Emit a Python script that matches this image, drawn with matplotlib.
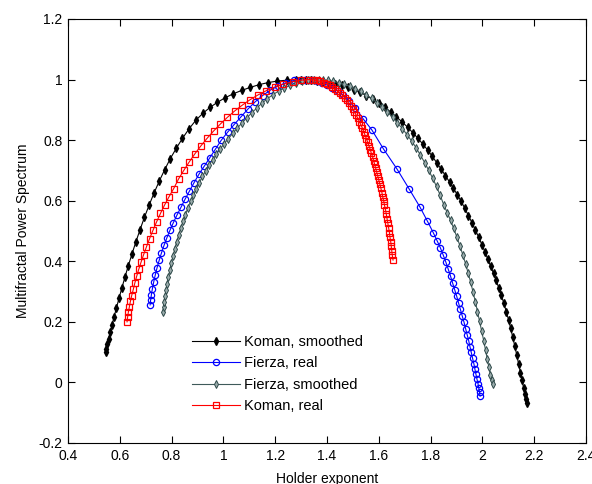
import matplotlib
matplotlib.use('Agg')
import matplotlib.pyplot as plt
from matplotlib.ticker import FuncFormatter

plt.rcParams['font.family'] = ['Liberation Sans', 'DejaVu Sans']
plt.rcParams['axes.unicode_minus'] = False

# Koman, smoothed (black)
koman_smooth_x = [0.545, 0.548, 0.552, 0.557, 0.563, 0.570, 0.578, 0.587, 0.597, 0.608,
                  0.620, 0.633, 0.647, 0.662, 0.678, 0.695, 0.713, 0.732, 0.752, 0.773,
                  0.795, 0.818, 0.842, 0.867, 0.893, 0.920, 0.948, 0.977, 1.007, 1.038,
                  1.070, 1.103, 1.137, 1.172, 1.208, 1.245, 1.282, 1.300,
                  1.318, 1.340, 1.362, 1.385, 1.408, 1.432, 1.456, 1.480, 1.504, 1.528,
                  1.552, 1.576, 1.600, 1.623, 1.646, 1.668, 1.690, 1.711, 1.731, 1.751,
                  1.770, 1.789, 1.807, 1.824, 1.841, 1.857, 1.873, 1.888, 1.903, 1.918,
                  1.932, 1.946, 1.960, 1.973, 1.986, 1.998, 2.010, 2.021, 2.032, 2.043,
                  2.053, 2.063, 2.073, 2.083, 2.092, 2.101, 2.109, 2.117, 2.125, 2.133,
                  2.140, 2.147, 2.153, 2.159, 2.164, 2.168, 2.171]
koman_smooth_y = [0.100, 0.112, 0.126, 0.145, 0.165, 0.190, 0.217, 0.246, 0.278, 0.312,
                  0.348, 0.386, 0.424, 0.464, 0.504, 0.545, 0.585, 0.625, 0.664, 0.702,
                  0.739, 0.773, 0.806, 0.837, 0.865, 0.888, 0.908, 0.925, 0.940, 0.953,
                  0.964, 0.974, 0.983, 0.990, 0.995, 0.998, 1.000, 1.000,
                  1.000, 0.998, 0.996, 0.993, 0.990, 0.986, 0.981, 0.975, 0.967, 0.958,
                  0.947, 0.935, 0.922, 0.908, 0.893, 0.877, 0.860, 0.843, 0.825, 0.806,
                  0.787, 0.767, 0.746, 0.725, 0.704, 0.683, 0.662, 0.641, 0.620, 0.598,
                  0.575, 0.551, 0.527, 0.503, 0.479, 0.455, 0.431, 0.407, 0.383, 0.360,
                  0.337, 0.313, 0.288, 0.261, 0.234, 0.207, 0.179, 0.150, 0.120, 0.089,
                  0.060, 0.032, 0.007, -0.018, -0.038, -0.055, -0.068]

# Fierza, real (blue)
fierza_real_x = [0.717, 0.719, 0.722, 0.726, 0.731, 0.737, 0.744, 0.752, 0.761, 0.771,
                 0.782, 0.794, 0.807, 0.821, 0.836, 0.852, 0.869, 0.887, 0.906, 0.926,
                 0.947, 0.969, 0.992, 1.016, 1.041, 1.067, 1.094, 1.122, 1.151, 1.181,
                 1.212, 1.243, 1.274, 1.300,
                 1.315, 1.330, 1.346, 1.363, 1.381, 1.400, 1.420, 1.441, 1.463, 1.486,
                 1.510, 1.540, 1.573, 1.618, 1.670, 1.717, 1.759, 1.788, 1.810, 1.825,
                 1.838, 1.849, 1.859, 1.868, 1.877, 1.885, 1.893, 1.901, 1.908, 1.915,
                 1.922, 1.929, 1.935, 1.941, 1.947, 1.952, 1.957, 1.962, 1.967, 1.971,
                 1.975, 1.979, 1.983, 1.986, 1.989, 1.991]
fierza_real_y = [0.256, 0.272, 0.290, 0.310, 0.332, 0.355, 0.379, 0.403, 0.428, 0.453,
                 0.478, 0.503, 0.528, 0.553, 0.578, 0.605, 0.632, 0.660, 0.688, 0.714,
                 0.741, 0.770, 0.800, 0.826, 0.851, 0.876, 0.902, 0.926, 0.947, 0.965,
                 0.979, 0.990, 0.997, 1.000,
                 1.000, 0.999, 0.997, 0.994, 0.989, 0.982, 0.973, 0.962, 0.948, 0.930,
                 0.906, 0.870, 0.834, 0.771, 0.705, 0.639, 0.579, 0.532, 0.495, 0.468,
                 0.444, 0.420, 0.397, 0.374, 0.351, 0.328, 0.306, 0.284, 0.262, 0.241,
                 0.220, 0.199, 0.178, 0.158, 0.138, 0.118, 0.099, 0.080, 0.062, 0.044,
                 0.027, 0.011, -0.004, -0.018, -0.032, -0.045]

# Fierza, smoothed (grey)
fierza_smooth_x = [0.767, 0.769, 0.772, 0.775, 0.779, 0.783, 0.788, 0.793, 0.799, 0.805,
                   0.812, 0.819, 0.827, 0.835, 0.844, 0.853, 0.863, 0.873, 0.884, 0.895,
                   0.907, 0.919, 0.932, 0.945, 0.959, 0.973, 0.988, 1.003, 1.019, 1.036,
                   1.053, 1.071, 1.090, 1.109, 1.129, 1.149, 1.170, 1.191, 1.213, 1.235,
                   1.257, 1.280, 1.303, 1.326, 1.349, 1.370,
                   1.385, 1.405, 1.425, 1.446, 1.467, 1.488, 1.509, 1.530, 1.551, 1.572,
                   1.593, 1.613, 1.633, 1.653, 1.672, 1.691, 1.709, 1.727, 1.744, 1.761,
                   1.777, 1.793, 1.808, 1.823, 1.837, 1.851, 1.864, 1.877, 1.889, 1.901,
                   1.913, 1.924, 1.935, 1.945, 1.955, 1.964, 1.973, 1.981, 1.989, 1.997,
                   2.005, 2.012, 2.019, 2.025, 2.031, 2.036, 2.040]
fierza_smooth_y = [0.232, 0.248, 0.265, 0.284, 0.304, 0.325, 0.347, 0.370, 0.393, 0.416,
                   0.440, 0.463, 0.486, 0.509, 0.532, 0.554, 0.576, 0.598, 0.619, 0.640,
                   0.660, 0.680, 0.699, 0.718, 0.736, 0.754, 0.771, 0.788, 0.805, 0.822,
                   0.839, 0.856, 0.873, 0.890, 0.906, 0.922, 0.937, 0.950, 0.962, 0.972,
                   0.981, 0.988, 0.994, 0.997, 0.999, 1.000,
                   0.999, 0.997, 0.994, 0.990, 0.985, 0.978, 0.970, 0.961, 0.950, 0.938,
                   0.924, 0.909, 0.893, 0.876, 0.857, 0.838, 0.818, 0.797, 0.775, 0.750,
                   0.726, 0.700, 0.674, 0.647, 0.618, 0.586, 0.561, 0.535, 0.509, 0.481,
                   0.452, 0.422, 0.392, 0.361, 0.330, 0.298, 0.266, 0.234, 0.202, 0.170,
                   0.138, 0.107, 0.077, 0.050, 0.025, 0.007, -0.005]

# Koman, real (red)
koman_real_x = [0.628, 0.630, 0.633, 0.637, 0.641, 0.646, 0.652, 0.658, 0.665, 0.673,
                0.682, 0.692, 0.703, 0.715, 0.728, 0.742, 0.757, 0.773, 0.790, 0.808,
                0.827, 0.847, 0.868, 0.890, 0.913, 0.937, 0.962, 0.988, 1.015, 1.043,
                1.072, 1.102, 1.133, 1.165, 1.198, 1.232, 1.267, 1.300, 1.330,
                1.345, 1.360, 1.374, 1.387, 1.399, 1.410, 1.420, 1.430, 1.440, 1.450,
                1.459, 1.468, 1.476, 1.484, 1.492, 1.499, 1.506, 1.513, 1.519, 1.525,
                1.531, 1.537, 1.542, 1.547, 1.552, 1.557, 1.562, 1.567, 1.571, 1.576,
                1.580, 1.584, 1.588, 1.592, 1.596, 1.600, 1.604, 1.608, 1.612, 1.615,
                1.619, 1.622, 1.626, 1.629, 1.632, 1.635, 1.638, 1.641, 1.643, 1.646,
                1.648, 1.650, 1.652, 1.655]
koman_real_y = [0.200, 0.215, 0.232, 0.250, 0.268, 0.287, 0.307, 0.328, 0.350, 0.373,
                0.397, 0.422, 0.448, 0.475, 0.502, 0.530, 0.558, 0.586, 0.613, 0.640,
                0.672, 0.700, 0.728, 0.755, 0.781, 0.806, 0.830, 0.853, 0.875, 0.896,
                0.915, 0.933, 0.949, 0.963, 0.975, 0.985, 0.993, 0.998, 1.000,
                0.999, 0.997, 0.994, 0.990, 0.986, 0.981, 0.976, 0.970, 0.963, 0.956,
                0.948, 0.940, 0.931, 0.922, 0.913, 0.903, 0.893, 0.882, 0.872, 0.861,
                0.850, 0.839, 0.828, 0.816, 0.805, 0.793, 0.781, 0.769, 0.757, 0.745,
                0.732, 0.720, 0.707, 0.694, 0.681, 0.668, 0.655, 0.641, 0.627, 0.613,
                0.599, 0.585, 0.570, 0.555, 0.540, 0.525, 0.510, 0.495, 0.480, 0.465,
                0.450, 0.435, 0.420, 0.404]

xticks = [0.4, 0.6, 0.8, 1.0, 1.2, 1.4, 1.6, 1.8, 2.0, 2.2, 2.4]
yticks = [-0.2, 0, 0.2, 0.4, 0.6, 0.8, 1.0, 1.2]

fig = plt.figure(figsize=(5.92, 4.84), dpi=100)
ax = fig.add_axes([68 / 592, 41 / 484, 518 / 592, 424 / 484])

ax.plot(koman_smooth_x, koman_smooth_y, '-', color='black', lw=0.8,
        marker='d', ms=3.6, mfc='black', mec='black', label='Koman, smoothed')
ax.plot(fierza_real_x, fierza_real_y, '-', color='#0000ff', lw=0.8,
        marker='o', ms=4.5, mfc='none', mec='#0000ff', mew=0.9, label='Fierza, real')
ax.plot(fierza_smooth_x, fierza_smooth_y, '-', color='#3f5a5a', lw=0.8,
        marker='d', ms=3.8, mfc='#9aabab', mec='#2f4a4a', mew=0.7, label='Fierza, smoothed')
ax.plot(koman_real_x, koman_real_y, '-', color='#ff0000', lw=0.8,
        marker='s', ms=4.3, mfc='none', mec='#ff0000', mew=0.9, label='Koman, real')

ax.set_xlim(0.4, 2.4)
ax.set_ylim(-0.2, 1.2)
ax.set_xticks(xticks)
ax.set_yticks(yticks)
fmt = FuncFormatter(lambda v, p: ('%g' % round(v, 2)))
ax.xaxis.set_major_formatter(fmt)
ax.yaxis.set_major_formatter(fmt)
ax.tick_params(direction='in', length=5, width=0.8, top=True, right=True,
               labelsize=10, pad=4)
for s in ax.spines.values():
    s.set_linewidth(0.8)

ax.set_xlabel('Holder exponent', fontsize=10, labelpad=7)
ax.set_ylabel('Multifractal Power Spectrum', fontsize=10, labelpad=6)

ax.legend(loc='upper left', bbox_to_anchor=(0.228, 0.268), frameon=False,
          fontsize=10.5, handlelength=3.3, labelspacing=0.5, handletextpad=0.3,
          borderaxespad=0)

fig.savefig('out.png', dpi=100)
